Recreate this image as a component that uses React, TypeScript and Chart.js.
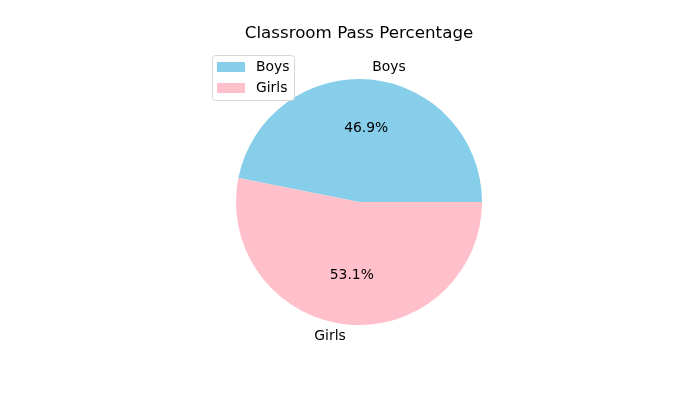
import React, { useEffect, useRef } from "react";
import { Chart, registerables } from "chart.js";

Chart.register(...registerables);

const categories = ["Boys", "Girls"];
const values = [15, 17];
const colors = ["#87CEEB", "#FFC0CB"];
const titleText = "Classroom Pass Percentage";

const FONT = "DejaVu Sans, sans-serif";

const overlayPlugin = {
  id: "mplOverlay",
  afterDraw(chart: any) {
    const ctx = chart.ctx as CanvasRenderingContext2D;
    const meta = chart.getDatasetMeta(0);
    const total = values.reduce((a, b) => a + b, 0);
    ctx.save();
    ctx.fillStyle = "#000";
    // title
    ctx.font = `16.7px ${FONT}`;
    ctx.textAlign = "center";
    ctx.textBaseline = "middle";
    const ca = chart.chartArea;
    ctx.fillText(titleText, (ca.left + ca.right) / 2, 34);

    meta.data.forEach((arc: any, i: number) => {
      const { x, y, startAngle, endAngle, outerRadius } = arc.getProps(
        ["x", "y", "startAngle", "endAngle", "outerRadius"],
        true
      );
      const mid = (startAngle + endAngle) / 2;
      const cx = Math.cos(mid);
      const cy = Math.sin(mid);
      // outer label
      ctx.font = `13.9px ${FONT}`;
      ctx.textBaseline = "middle";
      const lx = x + cx * outerRadius * 1.1;
      const ly = y + cy * outerRadius * 1.1;
      ctx.textAlign = cx > 0 ? "left" : "right";
      ctx.fillText(categories[i], lx, ly);
      // pct label
      ctx.textAlign = "center";
      const px = x + cx * outerRadius * 0.6;
      const py = y + cy * outerRadius * 0.6;
      ctx.fillText(((values[i] / total) * 100).toFixed(1) + "%", px, py);
    });

    // legend
    const lx0 = 212.5, ly0 = 55.5, lw = 82, lh = 45, r = 3;
    ctx.beginPath();
    ctx.moveTo(lx0 + r, ly0);
    ctx.lineTo(lx0 + lw - r, ly0);
    ctx.quadraticCurveTo(lx0 + lw, ly0, lx0 + lw, ly0 + r);
    ctx.lineTo(lx0 + lw, ly0 + lh - r);
    ctx.quadraticCurveTo(lx0 + lw, ly0 + lh, lx0 + lw - r, ly0 + lh);
    ctx.lineTo(lx0 + r, ly0 + lh);
    ctx.quadraticCurveTo(lx0, ly0 + lh, lx0, ly0 + lh - r);
    ctx.lineTo(lx0, ly0 + r);
    ctx.quadraticCurveTo(lx0, ly0, lx0 + r, ly0);
    ctx.closePath();
    ctx.fillStyle = "rgba(255,255,255,0.8)";
    ctx.fill();
    ctx.strokeStyle = "#d6d6d6";
    ctx.lineWidth = 1;
    ctx.stroke();
    categories.forEach((c, i) => {
      const ry = 62 + i * 21;
      ctx.fillStyle = colors[i];
      ctx.fillRect(217, ry, 28, 10);
      ctx.fillStyle = "#000";
      ctx.font = `13.9px ${FONT}`;
      ctx.textAlign = "left";
      ctx.textBaseline = "middle";
      ctx.fillText(c, 256, ry + 5);
    });
    ctx.restore();
  },
};

export default function App() {
  const ref = useRef<HTMLCanvasElement>(null);
  useEffect(() => {
    document.body.style.margin = "0";
    const total = values.reduce((a, b) => a + b, 0);
    const rotation = 90 - (360 * values[0]) / total;
    const chart = new Chart(ref.current!, {
      type: "pie",
      data: {
        labels: categories,
        datasets: [
          {
            data: values,
            backgroundColor: colors,
            borderWidth: 0,
          },
        ],
      },
      options: {
        animation: false,
        responsive: false,
        rotation,
        layout: { padding: { top: 79, bottom: 75, left: 100, right: 82 } },
        plugins: {
          legend: { display: false },
          title: { display: false },
          tooltip: { enabled: false },
        },
      },
      plugins: [overlayPlugin],
    });
    return () => chart.destroy();
  }, []);
  return (
    <div style={{ width: 700, height: 400, background: "#fff" }}>
      <canvas ref={ref} width={700} height={400} />
    </div>
  );
}
